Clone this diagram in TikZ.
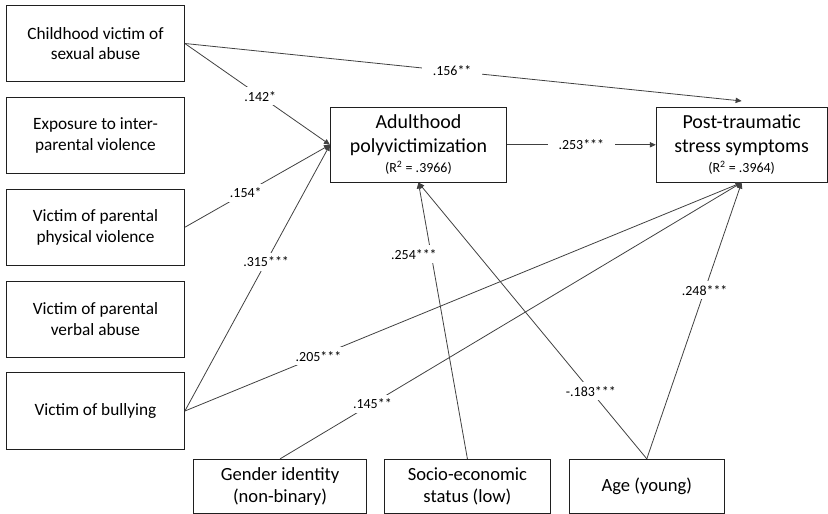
\documentclass[tikz,border=0pt]{standalone}
\usepackage{fontspec}
\setmainfont{Carlito}
\usetikzlibrary{arrows.meta, positioning}
\definecolor{clrLine}{HTML}{404040}
\definecolor{clrEdge}{HTML}{1F1F1F}
\tikzset{
  cause/.style = {rectangle, minimum width=4.71cm, minimum height=2.02cm, align=center,
                  font=\fontsize{13}{15.5}\selectfont, draw=clrEdge, line width=0.6pt},
  outcome/.style = {rectangle, minimum height=1.98cm, align=center,
                    font=\fontsize{15}{18}\selectfont, draw=clrEdge, line width=0.6pt},
  demo/.style = {rectangle, minimum height=1.43cm, align=center,
                 font=\fontsize{14}{16.5}\selectfont, draw=clrEdge, line width=0.6pt},
  link/.style = {-{Triangle[length=4.5pt, width=4pt]}, draw=clrLine, line width=0.6pt},
  coef/.style = {font=\fontsize{10.5}{12}\selectfont, fill=white, inner xsep=8pt, inner ysep=3pt},
}
\newcommand{\rsq}[1]{{\fontsize{10.5}{12}\selectfont (R\textsuperscript{2} = #1)}}

\begin{document}
\begin{tikzpicture}[
  hub/.style = {outcome, minimum width=4.66cm},
  sink/.style = {outcome, minimum width=4.52cm},
]
  \useasboundingbox (0,0) rectangle (21.907,-13.599);

  % Left column: childhood experiences
  \node[cause, anchor=north west] (Sexual) at (0.16,-0.13) {Childhood victim of\\sexual abuse};
  \node[cause, below=0.39cm of Sexual]   (Exposure) {Exposure to inter-\\parental violence};
  \node[cause, below=0.39cm of Exposure] (Physical) {Victim of parental\\physical violence};
  \node[cause, below=0.39cm of Physical] (Verbal)   {Victim of parental\\verbal abuse};
  \node[cause, below=0.39cm of Verbal]   (Bully)    {Victim of bullying};

  % Mediator and outcome
  \node[hub, anchor=north west] (Poly) at (8.73,-2.83) {Adulthood\\polyvictimization\\[-3pt]\rsq{.3966}};
  \node[sink, right=3.94cm of Poly] (PTSS) {Post-traumatic\\stress symptoms\\[-3pt]\rsq{.3964}};
  \coordinate (PTSStop) at ([yshift=4.5pt]PTSS.north);

  % Bottom row: demographics
  \node[demo, minimum width=4.58cm, anchor=north west] (Gender) at (5.11,-12.14) {Gender identity\\(non-binary)};
  \node[demo, minimum width=4.39cm, right=0.45cm of Gender] (SES) {Socio-economic\\status (low)};
  \node[demo, minimum width=4.10cm, right=0.48cm of SES]    (Age) {Age (young)};

  % Paths to adulthood polyvictimization
  \draw[link] (Sexual.east)   -- node[coef, pos=0.52] {.142*} (Poly.west);
  \draw[link] (Physical.east) -- node[coef, pos=0.42] {.154*} (Poly.west);
  \draw[link] (Bully.east)    -- node[coef, pos=0.56] {.315***} (Poly.west);
  \draw[link] (SES.north)     -- node[coef, pos=0.74, xshift=-13pt] {.254***} (Poly.south);
  \draw[link] (Age.north)     -- node[coef, pos=0.245] {-.183***} (Poly.south);

  % Paths to post-traumatic stress symptoms
  \draw[link] (Sexual.east)  -- node[coef, pos=0.48] {.156**} (PTSStop);
  \draw[link] (Poly)         -- node[coef] {.253***} (PTSS);
  \draw[link] (Bully.east)   -- node[coef, pos=0.24] {.205***} (PTSS.south);
  \draw[link] (Gender.north) -- node[coef, pos=0.2] {.145**} (PTSS.south);
  \draw[link] (Age.north)    -- node[coef, pos=0.61] {.248***} (PTSS.south);

\end{tikzpicture}
\end{document}
